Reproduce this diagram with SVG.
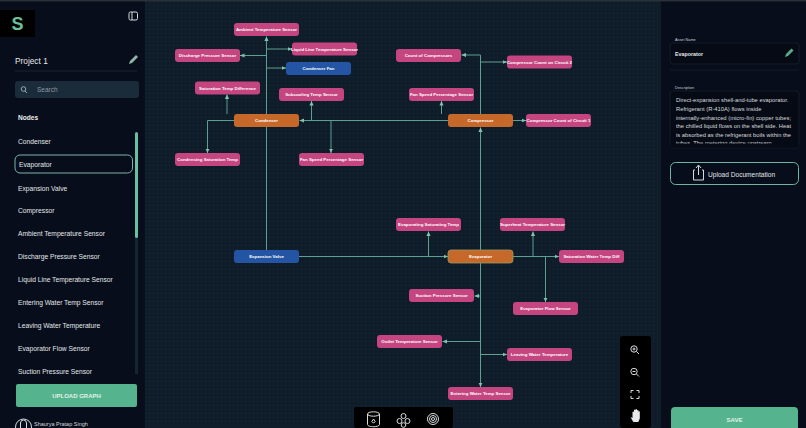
<svg xmlns="http://www.w3.org/2000/svg" width="806" height="428" viewBox="0 0 806 428">
<style>
text{font-family:"Liberation Sans",Arial,sans-serif}
.n text{font-size:4.4px;font-weight:700;fill:#fff;text-anchor:middle;dominant-baseline:central}
.p rect{fill:#c4457f}.o rect{fill:#c5682a}.b rect{fill:#2455a4}
.c{fill:none;stroke:#5f9f8f;stroke-width:1;marker-end:url(#a)}
.m{font-size:6.7px;fill:#e4e7ea}
.ic{fill:none;stroke:#d8dbde;stroke-width:1}
</style>
<defs>
<marker id="a" markerWidth="5" markerHeight="5" refX="4.5" refY="2.500" orient="auto" markerUnits="userSpaceOnUse"><path d="M0 .4L4.500 2.500L0 4.600z" fill="#7fc4b0"/></marker>
<pattern id="d" width="4" height="4" patternUnits="userSpaceOnUse"><rect width="4" height="4" fill="#0f1d2b"/><rect x="1" y="1" width="1" height="1" fill="#182a39"/></pattern>
</defs>
<rect width="806" height="428" fill="url(#d)"/>
<g id="connectors">
<path class="c" d="M266.500 250V36.500"/>
<path class="c" d="M266.500 49H292"/>
<path class="c" d="M266.500 55.500H240"/>
<path class="c" d="M266.500 68H286"/>
<path class="c" d="M227 114V94.500"/>
<path class="c" d="M234 120.500H207.500V153"/>
<path class="c" d="M448 120.500H299.500"/>
<path class="c" d="M311.500 120.500V101"/>
<path class="c" d="M331 120.500V153"/>
<path class="c" d="M480.500 250V127.500"/>
<path class="c" d="M480.500 114V55H461.500"/>
<path class="c" d="M480.500 62H507"/>
<path class="c" d="M441.500 114V101"/>
<path class="c" d="M513 120.500H526"/>
<path class="c" d="M299 256.500H448"/>
<path class="c" d="M428.500 256.500V231.500"/>
<path class="c" d="M513 256.500H559"/>
<path class="c" d="M533 256.500V231.500"/>
<path class="c" d="M545.500 256.500V302"/>
<path class="c" d="M480.500 263V387"/>
<path class="c" d="M480.500 296H474.500"/>
<path class="c" d="M480.500 341.500H442.500"/>
<path class="c" d="M480.500 354.500H507"/>
</g>
<g id="n-ambient" class="n p"><rect x="234" y="23" width="65" height="13" rx="3"/><text x="266.500" y="29.500">Ambient Temperature Sensor</text></g>
<g id="n-discharge" class="n p"><rect x="175" y="49" width="65" height="13" rx="3"/><text x="207.500" y="55.500">Discharge Pressure Sensor</text></g>
<g id="n-liquid" class="n p"><rect x="292" y="42.500" width="65" height="13" rx="3"/><text x="324.500" y="49">Liquid Line Temperature Sensor</text></g>
<g id="n-fan" class="n b"><rect x="286" y="62" width="65" height="13" rx="3"/><text x="318.500" y="68.500">Condenser Fan</text></g>
<g id="n-satdiff" class="n p"><rect x="195" y="81.500" width="65" height="13" rx="3"/><text x="227.500" y="88">Saturation Temp Difference</text></g>
<g id="n-subcool" class="n p"><rect x="279" y="88" width="65" height="13" rx="3"/><text x="311.500" y="94.500">Subcooling Temp Sensor</text></g>
<g id="n-condenser" class="n o"><rect x="234" y="114" width="65" height="13" rx="3"/><text x="266.500" y="120.500">Condenser</text></g>
<g id="n-condsat" class="n p"><rect x="175" y="153" width="65" height="13" rx="3"/><text x="207.500" y="159.500">Condensing Saturation Temp</text></g>
<g id="n-fanspeed1" class="n p"><rect x="299" y="153" width="65" height="13" rx="3"/><text x="331.500" y="159.500">Fan Speed Percentage Sensor</text></g>
<g id="n-count" class="n p"><rect x="396" y="49" width="65" height="13" rx="3"/><text x="428.500" y="55.500">Count of Compressors</text></g>
<g id="n-circ2" class="n p"><rect x="507" y="55.500" width="65" height="13" rx="3"/><text x="539.500" y="62">Compressor Count on Circuit 2</text></g>
<g id="n-fanspeed2" class="n p"><rect x="409" y="88" width="65" height="13" rx="3"/><text x="441.500" y="94.500">Fan Speed Percentage Sensor</text></g>
<g id="n-compressor" class="n o"><rect x="448" y="114" width="65" height="13" rx="3"/><text x="480.500" y="120.500">Compressor</text></g>
<g id="n-circ1" class="n p"><rect x="526" y="114" width="65" height="13" rx="3"/><text x="558.500" y="120.500">Compressor Count of Circuit 1</text></g>
<g id="n-evapsat" class="n p"><rect x="396" y="218" width="65" height="13" rx="3"/><text x="428.500" y="224.500">Evaporating Saturating Temp</text></g>
<g id="n-superheat" class="n p"><rect x="500" y="218" width="65" height="13" rx="3"/><text x="532.500" y="224.500">Superheat Temperature Sensor</text></g>
<g id="n-valve" class="n b"><rect x="234" y="250" width="65" height="13" rx="3"/><text x="266.500" y="256.500">Expansion Valve</text></g>
<g id="n-evaporator" class="n o"><rect x="448" y="250" width="65" height="13" rx="3" stroke="#9a9a5a" stroke-width=".8"/><text x="480.500" y="256.500">Evaporator</text></g>
<g id="n-satwater" class="n p"><rect x="559" y="250" width="65" height="13" rx="3"/><text x="591.500" y="256.500">Saturation Water Temp Diff</text></g>
<g id="n-suction" class="n p"><rect x="409" y="289" width="65" height="13" rx="3"/><text x="441.500" y="295.500">Suction Pressure Sensor</text></g>
<g id="n-flow" class="n p"><rect x="513" y="302" width="65" height="13" rx="3"/><text x="545.500" y="308.500">Evaporator Flow Sensor</text></g>
<g id="n-outlet" class="n p"><rect x="377" y="335" width="65" height="13" rx="3"/><text x="409.500" y="341.500">Outlet Temperature Sensor</text></g>
<g id="n-leaving" class="n p"><rect x="507" y="348" width="65" height="13" rx="3"/><text x="539.500" y="354.500">Leaving Water Temperature</text></g>
<g id="n-entering" class="n p"><rect x="448" y="387" width="65" height="13" rx="3"/><text x="480.500" y="393.500">Entering Water Temp Sensor</text></g>

<g id="sidebar">
<rect width="145" height="428" fill="#070d1a"/>
<rect width="806" height="1.500" fill="#2a3036"/>
<rect x="0" y="10" width="35" height="27" fill="#000"/>
<text x="17.500" y="30" font-size="18" font-weight="700" fill="#6cc09a" text-anchor="middle">S</text>
<rect x="129" y="12" width="8.500" height="8" rx="1.500" class="ic"/><path d="M132 12v8" class="ic"/>
<text x="15" y="64" font-size="8.300" fill="#e8eaec">Project 1</text>
<path d="M129 64l1-3 6-6 2 2-6 6z" fill="#8fb5a5"/>
<path d="M15 71H137" stroke="#1c2530" stroke-width="1"/>
<rect x="15" y="81" width="124" height="17" rx="3" fill="#1a2b3a"/>
<circle cx="23.500" cy="89" r="2.300" fill="none" stroke="#9aa6ad"/><path d="M25 91l2 2" stroke="#9aa6ad"/>
<text x="37" y="92" font-size="6.500" fill="#8d99a2">Search</text>
<text x="18" y="120" font-size="6.600" font-weight="700" fill="#eceef0">Nodes</text>
<rect x="15" y="155" width="117.500" height="18" rx="5" fill="none" stroke="#7fb5a5" stroke-width="1"/>
<rect x="135" y="132" width="3" height="106" rx="1.500" fill="#69bfa0"/>
<rect x="135" y="238" width="3" height="136" fill="#16262e"/>
<text class="m" x="18" y="143.500">Condenser</text>
<text class="m" x="19" y="166.500">Evaporator</text>
<text class="m" x="18" y="190.500">Expansion Valve</text>
<text class="m" x="18" y="213">Compressor</text>
<text class="m" x="18" y="236">Ambient Temperature Sensor</text>
<text class="m" x="18" y="259">Discharge Pressure Sensor</text>
<text class="m" x="18" y="282">Liquid Line Temperature Sensor</text>
<text class="m" x="18" y="304.500">Entering Water Temp Sensor</text>
<text class="m" x="18" y="327.500">Leaving Water Temperature</text>
<text class="m" x="18" y="350.500">Evaporator Flow Sensor</text>
<text class="m" x="18" y="373.500">Suction Pressure Sensor</text>
<rect x="16" y="384" width="121" height="23" rx="2" fill="#55b48d"/>
<text x="76.500" y="398" font-size="6" font-weight="700" fill="#e2f2ea" text-anchor="middle">UPLOAD GRAPH</text>
<circle cx="23.500" cy="427" r="8" fill="none" stroke="#d8dbde"/><path d="M20.500 428v-5a3 3 0 0 1 6 0v5" class="ic"/>
<text x="34" y="426" font-size="5.500" fill="#d4d8db">Shaurya Pratap Singh</text>
</g>

<g id="right-panel">
<rect x="661" width="145" height="428" fill="#070d1a"/>
<rect x="661" width="145" height="1.500" fill="#2a3036"/>
<text x="675" y="41" font-size="3.800" fill="#c9ced2">Asset Name</text>
<rect x="670" y="43" width="129" height="21" rx="3" fill="#050a14" stroke="#141c28"/>
<text x="675" y="55.500" font-size="5.300" font-weight="700" fill="#e6e9eb">Evaporator</text>
<path d="M785 57l1-3 5.500-5.500 2 2L788 56z" fill="#5aa98a"/>
<path d="M670 70H799" stroke="#141c28"/>
<text x="675" y="89" font-size="3.800" fill="#c9ced2">Description</text>
<rect x="670" y="91" width="129" height="57" rx="3" fill="#050a14" stroke="#141c28"/>
<g font-size="5.800" fill="#d8dcdf">
<text x="676" y="102">Direct-expansion shell-and-tube evaporator.</text>
<text x="676" y="111">Refrigerant (R-410A) flows inside</text>
<text x="676" y="119.500">internally-enhanced (micro-fin) copper tubes;</text>
<text x="676" y="128">the chilled liquid flows on the shell side. Heat</text>
<text x="676" y="136.500">is absorbed as the refrigerant boils within the</text>
<text x="676" y="145">tubes. The metering device upstream</text>
</g>
<rect x="670.500" y="143.500" width="128" height="4" fill="#050a14"/>
<rect x="670.500" y="162.500" width="128" height="22" rx="5" fill="none" stroke="#6fb5a0" stroke-width="1"/>
<path d="M695 170h-1.500v10h10v-10H702M698.500 175v-9M696 168l2.500-3 2.500 3" class="ic"/>
<text x="708" y="176.500" font-size="6.600" fill="#e2e5e8">Upload Documentation</text>
<rect x="671" y="407" width="127" height="24" rx="4" fill="#55b48d"/>
<text x="734.500" y="421.500" font-size="6" font-weight="700" fill="#e2f2ea" text-anchor="middle">SAVE</text>
</g>

<g id="zoom-toolbar">
<rect x="620" y="336" width="31" height="92" rx="3" fill="#000"/>
<g class="ic">
<circle cx="634" cy="349" r="3.200"/><path d="M636.500 351.500l2.500 2.500M632.500 349h3M634 347.500v3"/>
<circle cx="634" cy="371.500" r="3.200"/><path d="M636.500 374l2.500 2.500M632.500 371.500h3"/>
<path d="M631 393v-2.500h2.500M636.500 390.500h2.500v2.500M639 396v2.500h-2.500M633.500 398.500H631V396"/>
</g>
<path d="M630.500 417l2 1v-6a1 1 0 0 1 1.500 0v-2a1 1 0 0 1 1.500 0v-.5a1 1 0 0 1 1.500 0v1a1 1 0 0 1 1.500 0v1a1 1 0 0 1 1.300 0v7l-1.500 3.500h-5z" fill="#e6e8ea"/>
</g>
<g id="bottom-toolbar">
<rect x="354" y="407" width="99" height="21" rx="2" fill="#000"/>
<g class="ic">
<ellipse cx="373.500" cy="414" rx="6" ry="2.200"/><path d="M367.500 414v10.500c0 1.500 3 2.200 6 2.200s6-.7 6-2.200V414"/><path d="M373.500 419l-1.700 2.500a1.800 1.800 0 0 0 3.400 0z"/>
<circle cx="403.500" cy="416" r="2.500"/><circle cx="399.500" cy="421" r="2.500"/><circle cx="407.500" cy="421" r="2.500"/><circle cx="403.500" cy="425" r="2.300"/>
<circle cx="433" cy="419" r="5.500"/><circle cx="433" cy="419" r="3.500"/><circle cx="433" cy="419" r="1.500"/>
</g>
</g>
</svg>
